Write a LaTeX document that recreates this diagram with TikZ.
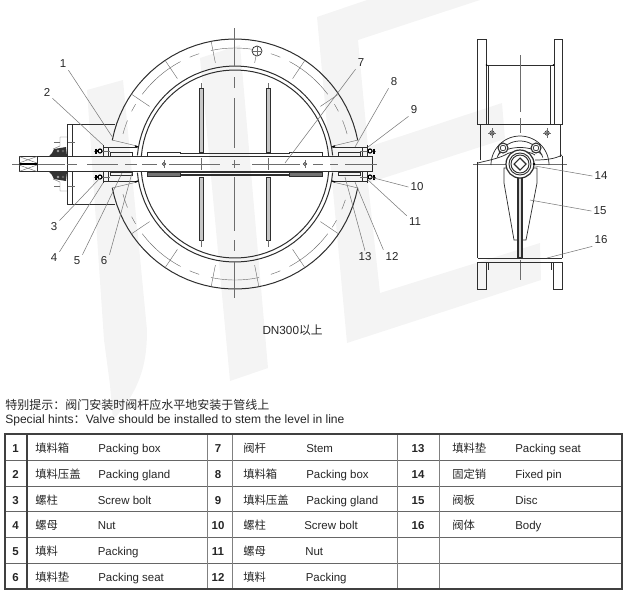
\documentclass[tikz,border=0pt]{standalone}
\usepackage{fontspec}
\setmainfont{Liberation Sans}
\newfontfamily\cjkf{Noto Sans CJK SC}
\definecolor{wm}{HTML}{F4F4F4}
\definecolor{ink}{HTML}{2E2E2E}
\definecolor{lead}{HTML}{7A7A7A}
\newcommand\ringarc[4][]{\draw[#1] plot[domain=#3:#4,samples=40] ({235+#2*cos(\x)},{164-#2*sin(\x)});}
\newcommand\ringtick[3]{\draw[thinl] ({235+#2*cos(#1)},{164-#2*sin(#1)}) -- ({235+#3*cos(#1)},{164-#3*sin(#1)});}
\newcommand\packhalf{%
  \draw[part] (103,147) -- (137,147);
  \draw[part] (110,152.5) rectangle (132,156);
  \draw[part] (103,145) -- (103,156) (108,147) -- (108,156);
  \draw[thinl] (112,140) -- (137,146);
  \draw[thinl] (94,151) -- (110,151);
  \draw[heavy] (135,146) -- (138,147);
  \draw[heavy,fill=white] (100,151) circle (2);
  \draw[heavy] (96,151) -- (97.5,151) (96,148.5) -- (96,153.5);
}
\tikzset{
  part/.style={draw=ink,line width=0.55pt},
  heavy/.style={draw=black,line width=0.9pt},
  thinl/.style={draw=ink!70,line width=0.33pt},
  lead/.style={draw=lead,line width=0.4pt},
  lab/.style={font=\fontsize{8.6}{10}\selectfont,text=black!85,inner sep=1.5pt},
  num/.style={font=\fontsize{8.6}{10}\selectfont\bfseries,text=black!85,inner sep=0pt,anchor=base},
  cn/.style={font=\cjkf\fontsize{8.5}{10}\selectfont,text=black!85,anchor=base west,inner sep=0pt},
  en/.style={font=\fontsize{8.6}{10}\selectfont,text=black!85,anchor=base west,inner sep=0pt},
  tb/.style={draw=black!75,line width=0.9pt},
  tl/.style={draw=black!50,line width=0.5pt},
}
\begin{document}
\begin{tikzpicture}[x=0.75pt,y=-0.75pt]
\useasboundingbox (0,0) rectangle (627,594);
% watermark
\fill[wm] (87,90) -- (123,80) -- (147,330) .. controls (147,365) and (140,390) .. (113,420) -- (110,385) -- (104,340) -- cycle;
\fill[wm] (200,58) -- (240,45) -- (268,368) -- (230,381) -- cycle;
\fill[wm] (317,17) -- (367,0) -- (480,0) -- (358,40) -- (368,147) -- (502,103) -- (505,139) -- (368,183) -- (380,293) -- (540,243) -- (541,280) -- (347,343) -- cycle;
% front view: ring
\ringarc[part,line width=0.75pt]{125}{11}{169}
\ringarc[part,line width=0.75pt]{125}{191}{349}
\ringarc[part,line width=0.75pt]{98}{5}{175}
\ringarc[part,line width=0.75pt]{98}{185}{355}
\ringarc[part,line width=0.75pt]{94}{5}{175}
\ringarc[part,line width=0.75pt]{94}{185}{355}
% bolt circle
\foreach \sa/\ea in {78/102,108/113,118/143,149/153,158/165,195/202,207/211,217/242,247/252,258/282,288/293,298/323,327/331,337/342,15/22,27/31}{
  \ringarc[thinl]{116}{\sa}{\ea}}
\ringarc[thinl]{116}{37}{62}
\ringarc[thinl]{116}{67}{72}
\foreach \t in {101,124,146,34,56,214,236,259,281,304,326}{\ringtick{\t}{103}{125}}
\ringtick{79}{103}{110}
\draw[part,fill=white] (257,51) circle (5);
\draw[thinl] (253,51) -- (261,51) (257,47) -- (257,55);
% bracket on the left
\draw[part] (115,124) -- (67,124) -- (67,204) -- (115,204);
\draw[part] (72,124) -- (72,156) (72,172) -- (72,204);
% left gland
\foreach \ys/\ysh in {1/0,-1/328}{
\begin{scope}[shift={(0,\ysh)},yscale=\ys]
  \draw[thinl] (60,137) -- (67,137) (60,137) -- (60,146) -- (53,149);
  \draw[thinl] (68,142) -- (75,142) (54,142) -- (60,142);
  \fill[black!80] (49,156.3) -- (52,153) -- (54,149) -- (66,147) -- (67,156.3) -- cycle;
  \draw[part,fill=white] (58,151) circle (1.6);
  \draw[part,fill=white] (63,151) circle (1.3);
\end{scope}}
% packing boxes on both sides
\packhalf
\begin{scope}[shift={(470,0)},xscale=-1]\packhalf\end{scope}
\begin{scope}[shift={(0,328)},yscale=-1]\packhalf\end{scope}
\begin{scope}[shift={(470,328)},xscale=-1,yscale=-1]\packhalf\end{scope}
% stem
\draw[part,line width=0.75pt] (19,156.5) -- (372,156.5) -- (372,171.5) -- (19,171.5) -- cycle;
\draw[part] (37,156.5) -- (37,171.5);
\draw[thinl] (19,156.5) -- (37,163) (37,156.5) -- (19,163) (19,165) -- (37,171.5) (37,165) -- (19,171.5);
\draw[black,line width=1.5pt] (20,164) -- (37,164);
% axes
\foreach \a/\b in {12/19,38/65,67/77,87/118,125/137,142/157,169/220,232/240,252/300,313/323,330/338,345/377}{
  \draw[thinl] (\a,164) -- (\b,164);}
\foreach \a/\b in {28/66,77/88,98/148,160/168,177/231,240/251,262/298}{
  \draw[thinl] (234.7,\a) -- (234.7,\b);}
\foreach \p in {164,305}{\draw[part,fill=white] (\p,164) circle (1.6);\draw[thinl] (\p,160) -- (\p,168);}
% hub sleeves
\draw[part] (147,156.5) -- (147,152) -- (180,152) -- (180,153.2) -- (289,153.2) -- (289,152) -- (322,152) -- (322,156.5);
\draw[draw=ink,line width=1pt] (180,153.8) -- (289,153.8);
\draw[part,fill=black!55] (147,172) rectangle (180,176.7);
\draw[part,fill=black!55] (289,172) rectangle (322,176.7);
\draw[part] (180,172) rectangle (289,175);
\draw[draw=ink,line width=0.9pt] (180,175) -- (289,175);
% disc plates
\foreach \p in {201,268}{
  \draw[part,fill=black!22] (\p-2,88) rectangle (\p+2,152);
  \draw[part,fill=black!22] (\p-2,177) rectangle (\p+2,240);
  \draw[thinl] (\p,83) -- (\p,88) (\p,240) -- (\p,247) (\p,158) -- (\p,170);}
% side view: flanges
\draw[part] (477.7,39.5) rectangle (486,124);
\draw[part] (554,39.5) rectangle (562,124);
\draw[part] (486,65) -- (554,65);
\fill[black] (486.5,65) circle (0.9) (553.5,65) circle (0.9);
\draw[part] (488.5,65) -- (488.5,124) (550.7,65) -- (550.7,124);
\draw[part] (480.7,124) -- (560,124) (480.7,124) -- (480.7,160) (560,124) -- (560,157);
\draw[thinl] (520,55) -- (520,112) (520,118) -- (520,133) (520,260) -- (520,280);
\draw[thinl] (473,164) -- (507,164) (533,164) -- (567,164);
% side view: body
\draw[part] (477.7,162) -- (477.7,258) (562,156) -- (562,258);
\draw[part] (478,163) .. controls (485,161) and (497,159) .. (505,155);
\draw[part] (535,160) .. controls (545,160) and (555,159) .. (562,155);
\draw[part,line width=0.8pt] (477.7,258.3) -- (562,258.3);
\draw[part,line width=0.8pt] (477.7,262.5) -- (562,262.5);
\draw[part] (477.7,262.5) rectangle (486,289) (553.5,262.5) rectangle (562,289);
\draw[part] (488.5,262.5) -- (488.5,270) (551,262.5) -- (551,270);
% side view: gland flange
\draw[part] plot[domain=0:180,samples=40] ({520+29*cos(\x)},{165-29*sin(\x)});
\draw[part] plot[domain=18:162,samples=30] ({520+24*cos(\x)},{165-24*sin(\x)});
\draw[part] (498,155) .. controls (507,145) and (533,145) .. (542,155);
\draw[part] (505,155) .. controls (512,150) and (528,150) .. (535,155);
\foreach \p/\q in {503/148,536/148}{
  \draw[part,line width=0.8pt,fill=white] (\p,\q) circle (5);
  \draw[part] (\p,\q) circle (2.8);}
\foreach \p in {492,547}{
  \draw[part] (\p,133) circle (2.2);
  \fill[black] (\p,133) circle (1);
  \draw[thinl] (\p-4,133) -- (\p+4,133) (\p,128) -- (\p,138);}
% side view: disc and hub
\draw[part,fill=white] (504,168) -- (504,183) -- (514,240) -- (518,240) -- (518,190) -- (522,190) -- (522,240) -- (526,240) -- (537,183) -- (537,168) -- cycle;
\draw[part,line width=0.8pt,fill=black!15] (518,176) rectangle (522,258);
\draw[part,line width=0.9pt,fill=white] (520,164) circle (14);
\draw[part,line width=0.7pt] (520,164) circle (11);
\draw[part,line width=0.7pt] (520,164) circle (9);
\draw[part,line width=0.8pt,fill=white] (520,158) -- (526,164) -- (520,170) -- (514,164) -- cycle;
\fill[black] (534,164) circle (1.4);
% labels
\node[lab] (n1) at (63,64) {1};
\node[lab] (n2) at (47,92) {2};
\node[lab] (n3) at (54,227) {3};
\node[lab] (n4) at (54,258) {4};
\node[lab] (n5) at (77,261) {5};
\node[lab] (n6) at (104,261) {6};
\node[lab] (n7) at (361,63) {7};
\node[lab] (n8) at (394,82) {8};
\node[lab] (n9) at (414,110) {9};
\node[lab] (n10) at (417,187) {10};
\node[lab] (n11) at (415,222) {11};
\node[lab] (n12) at (392,256) {12};
\node[lab] (n13) at (365,257) {13};
\node[lab] (n14) at (601,176) {14};
\node[lab] (n15) at (600,211) {15};
\node[lab] (n16) at (601,240) {16};
\coordinate (t1) at (113,138);
\coordinate (t2) at (103,145);
\coordinate (t3) at (100,178);
\coordinate (t4) at (103,183);
\coordinate (t5) at (122,173);
\coordinate (t6) at (132,173);
\coordinate (t7) at (285,163);
\coordinate (t8) at (355,147);
\coordinate (t9) at (368,147);
\coordinate (t10) at (370,177);
\coordinate (t11) at (368,180);
\coordinate (t12) at (355,182);
\coordinate (t13) at (345,177);
\coordinate (t14) at (535,166);
\coordinate (t15) at (530,200);
\coordinate (t16) at (547,258);
\draw[lead] (n1.south east) -- (t1);
\draw[lead] (n2.south east) -- (t2);
\draw[lead] (n3.north east) -- (t3);
\draw[lead] (n4.north east) -- (t4);
\draw[lead] (n5.north east) -- (t5);
\draw[lead] (n6.north east) -- (t6);
\draw[lead] (n7.south west) -- (t7);
\draw[lead] (n8.south west) -- (t8);
\draw[lead] (n9.south west) -- (t9);
\draw[lead] (n10.west) -- (t10);
\draw[lead] (n11.north west) -- (t11);
\draw[lead] (n12.north west) -- (t12);
\draw[lead] (n13.north) -- (t13);
\draw[lead] (n14.west) -- (t14);
\draw[lead] (n15.west) -- (t15);
\draw[lead] (n16.south west) -- (t16);
\node[font=\fontsize{8.8}{10}\selectfont,text=black!85,inner sep=0pt] (caption) at (292.5,330) {DN300{\cjkf 以上}};
% hints
\node[anchor=west,inner sep=0pt,font=\cjkf\fontsize{9}{10}\selectfont,text=black!85] (hintcn) at (5,404.5) {特别提示：阀门安装时阀杆应水平地安装于管线上};
\node[anchor=west,inner sep=0pt,font=\fontsize{9.05}{10}\selectfont,text=black!85] (hinten) at (5,420) {Special hints{\cjkf ：}Valve should be installed to stem the level in line};
% table
\foreach \r in {460,486,511.5,537,563}{\draw[tl,draw=black!60,line width=0.7pt] (5,\r) -- (622,\r);}
\foreach \c in {207,232,397,439}{\draw[tl] (\c,434) -- (\c,589);}
\draw[tb] (27,434) -- (27,589);
\draw[tb] (5,434) rectangle (622,589);
% table text
\foreach \n/\y/\c/\e/\ex in {%
 1/452/填料箱/Packing box/98,
 2/478/填料压盖/Packing gland/98,
 3/504/螺柱/Screw bolt/97.5,
 4/529/螺母/Nut/97.5,
 5/555/填料/Packing/97.5,
 6/581/填料垫/Packing seat/98}{
  \node[num] (r\n) at (15.5,\y) {\n};
  \node[cn] (c\n) at (35,\y) {\c};
  \node[en] (e\n) at (\ex,\y) {\e};}
\foreach \n/\y/\c/\e/\ex in {%
 7/452/阀杆/Stem/306,
 8/478/填料箱/Packing box/306,
 9/504/填料压盖/Packing gland/306,
 10/529/螺柱/Screw bolt/304,
 11/555/螺母/Nut/305,
 12/581/填料/Packing/305.5}{
  \node[num] (r\n) at (218,\y) {\n};
  \node[cn] (c\n) at (243,\y) {\c};
  \node[en] (e\n) at (\ex,\y) {\e};}
\foreach \n/\y/\c/\e in {%
 13/452/填料垫/Packing seat,
 14/478/固定销/Fixed pin,
 15/504/阀板/Disc,
 16/529/阀体/Body}{
  \node[num] (r\n) at (418,\y) {\n};
  \node[cn] (c\n) at (452,\y) {\c};
  \node[en] (e\n) at (515,\y) {\e};}
\end{tikzpicture}
\end{document}
